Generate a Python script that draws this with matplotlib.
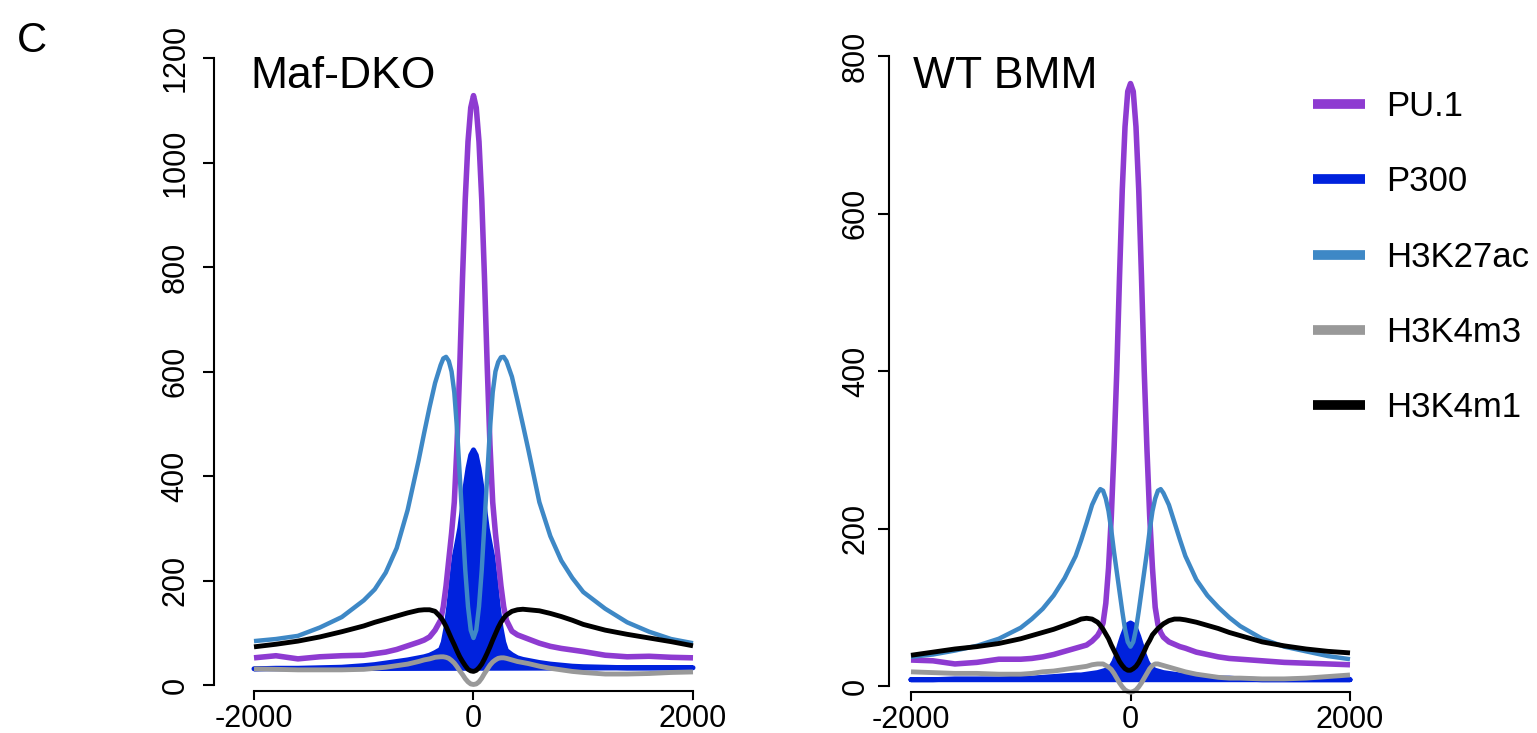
import numpy as np
import matplotlib
matplotlib.use('Agg')
import matplotlib.pyplot as plt
from matplotlib.lines import Line2D

plt.rcParams['font.family'] = ['Liberation Sans', 'DejaVu Sans']
plt.rcParams['axes.unicode_minus'] = False

# distance from peak centre (bp), shared by every profile
pos = [-2000, -1800, -1600, -1400, -1200, -1000, -900, -800, -700, -600, -500, -450, -400, -350,
       -300, -275, -250, -225, -200, -175, -150, -125, -100, -75, -50, -25, 0,
       25, 50, 75, 100, 125, 150, 175, 200, 225, 250, 275, 300,
       350, 400, 450, 500, 600, 700, 800, 900, 1000, 1200, 1400, 1600, 1800, 2000]

marks = ['PU.1', 'P300', 'H3K27ac', 'H3K4m3', 'H3K4m1']
colors = ['#8E3BD1', '#0022DD', '#3E88C6', '#999999', '#000000']

# Maf-DKO
dko_pu1 = [52, 56, 50, 54, 56, 57, 60, 63, 68, 75, 82, 86, 92, 105,
           124, 150, 190, 240, 290, 350, 460, 610, 780, 930, 1040, 1105, 1128,
           1105, 1040, 930, 780, 610, 460, 350, 290, 240, 190, 150, 124,
           103, 96, 92, 88, 80, 74, 70, 67, 64, 57, 54, 55, 53, 52]
dko_p300 = [31, 32, 32, 33, 34, 37, 39, 42, 45, 48, 52, 54, 57, 62,
            68, 82, 110, 150, 200, 245, 272, 300, 340, 380, 415, 440, 450,
            440, 415, 380, 340, 300, 272, 245, 200, 150, 110, 82, 66,
            58, 52, 49, 47, 43, 40, 38, 36, 35, 34, 33, 33, 33, 33]
dko_k27ac = [84, 88, 94, 110, 130, 162, 183, 215, 262, 335, 430, 482, 532, 578,
             612, 625, 628, 620, 600, 560, 490, 400, 310, 220, 150, 105, 90,
             105, 150, 220, 310, 400, 490, 560, 600, 618, 627, 628, 620,
             590, 545, 498, 450, 350, 285, 238, 205, 178, 146, 120, 102, 88, 80]
dko_k4m3 = [31, 30, 29, 29, 29, 30, 32, 34, 37, 40, 45, 48, 50, 53,
            54, 54, 53, 51, 47, 42, 35, 27, 20, 12, 6, 2, 1,
            2, 6, 13, 22, 30, 38, 44, 48, 51, 52, 52, 51,
            48, 45, 43, 41, 36, 32, 29, 26, 24, 21, 21, 22, 24, 25]
dko_k4m1 = [73, 78, 84, 92, 102, 113, 120, 126, 132, 138, 143, 144, 144, 141,
            130, 122, 112, 100, 88, 77, 65, 54, 45, 37, 30, 27, 26,
            28, 33, 40, 50, 61, 73, 86, 98, 110, 120, 128, 134,
            141, 144, 145, 144, 142, 137, 131, 124, 116, 105, 97, 90, 83, 75]

# WT BMM
wt_pu1 = [33, 32, 28, 30, 34, 34, 35, 37, 40, 44, 48, 50, 52, 57,
          64, 70, 80, 105, 150, 215, 300, 400, 520, 630, 710, 755, 765,
          755, 710, 630, 520, 400, 300, 215, 150, 100, 78, 68, 62,
          56, 53, 50, 48, 43, 40, 37, 35, 34, 32, 30, 29, 28, 27]
wt_p300 = [8, 8, 9, 9, 9, 10, 10, 11, 12, 13, 14, 14, 15, 16,
           17, 18, 19, 20, 22, 25, 31, 40, 52, 63, 72, 78, 80,
           78, 72, 63, 52, 40, 31, 25, 22, 20, 19, 18, 17,
           16, 15, 14, 13, 12, 11, 10, 10, 9, 8, 8, 8, 8, 8]
wt_k27ac = [37, 40, 45, 51, 60, 74, 85, 98, 115, 137, 165, 185, 207, 230,
            245, 250, 248, 238, 222, 198, 170, 145, 120, 95, 72, 56, 50,
            56, 72, 95, 120, 145, 170, 198, 222, 238, 248, 250, 245,
            230, 208, 186, 165, 135, 115, 100, 87, 76, 60, 50, 44, 38, 34]
wt_k4m3 = [18, 17, 16, 16, 15, 15, 16, 18, 19, 21, 23, 24, 25, 27,
           28, 28, 28, 26, 24, 21, 16, 10, 4, -1, -5, -7, -8,
           -7, -5, -1, 4, 10, 16, 22, 26, 28, 28, 27, 26,
           24, 22, 20, 18, 15, 13, 11, 10, 10, 9, 9, 10, 12, 14]
wt_k4m1 = [39, 43, 47, 50, 54, 60, 64, 68, 72, 77, 82, 85, 86, 85,
           81, 77, 72, 66, 60, 52, 45, 38, 31, 26, 22, 20, 20,
           22, 25, 30, 37, 44, 52, 58, 65, 69, 73, 76, 79,
           83, 85, 85, 84, 81, 77, 73, 68, 64, 56, 51, 47, 44, 42]

W, H = 1537, 733
fig = plt.figure(figsize=(W / 100, H / 100), dpi=100)


def make_axes(xpix, ypix, ytop, box):
    # box = left, right, top, bottom in pixels; xpix/ypix = pixels of -2000/2000 and 0/ytop
    sx = (xpix[1] - xpix[0]) / 4000.0
    sy = (ypix[0] - ypix[1]) / float(ytop)
    ax = fig.add_axes([box[0] / W, 1 - box[3] / H, (box[1] - box[0]) / W, (box[3] - box[2]) / H])
    ax.set_xlim(-2000 - (xpix[0] - box[0]) / sx, 2000 + (box[1] - xpix[1]) / sx)
    ax.set_ylim(-(box[3] - ypix[0]) / sy, ytop + (ypix[1] - box[2]) / sy)
    return ax


def draw(ax, pu1, p300, k27ac, k4m3, k4m1, ytop, ystep, ypad):
    kw = dict(clip_on=False, solid_joinstyle='round', solid_capstyle='butt')
    ax.fill(pos, p300, color=colors[1], lw=3.6, joinstyle='round', clip_on=False)
    ax.plot(pos, pu1, color=colors[0], lw=4.0, **kw)
    ax.plot(pos, k27ac, color=colors[2], lw=3.2, **kw)
    ax.plot(pos, k4m3, color=colors[3], lw=3.5, **kw)
    ax.plot(pos, k4m1, color=colors[4], lw=3.5, **kw)

    for s in ['top', 'right']:
        ax.spines[s].set_visible(False)
    ax.spines['left'].set_bounds(0, ytop)
    ax.spines['bottom'].set_bounds(-2000, 2000)
    ax.spines['left'].set_linewidth(1.5)
    ax.spines['bottom'].set_linewidth(1.5)
    ax.set_xticks([-2000, 0, 2000])
    ax.set_yticks(np.arange(0, ytop + 1, ystep))
    ax.tick_params(axis='x', length=6.5, width=1.5, labelsize=22, pad=3)
    ax.tick_params(axis='y', length=8, width=1.5, labelsize=22, pad=ypad)
    for lab in ax.get_yticklabels():
        lab.set_rotation(90)
        lab.set_va('center')


ax1 = make_axes((254, 693), (685, 58), 1200, (214, 700, 45, 691))
draw(ax1, dko_pu1, dko_p300, dko_k27ac, dko_k4m3, dko_k4m1, 1200, 200, 9)

ax2 = make_axes((911, 1350), (686, 56), 800, (889, 1360, 45, 692))
draw(ax2, wt_pu1, wt_p300, wt_k27ac, wt_k4m3, wt_k4m1, 800, 200, 5)

fig.text(250 / W, 1 - 88 / H, 'Maf-DKO', fontsize=32, va='baseline', ha='left')
fig.text(913 / W, 1 - 88 / H, 'WT BMM', fontsize=32, va='baseline', ha='left')
fig.text(17 / W, 1 - 52 / H, 'C', fontsize=30, va='baseline', ha='left')

handles = [Line2D([0], [0], color=c, lw=7, solid_capstyle='butt') for c in colors]
fig.legend(handles, marks, loc='upper left', bbox_to_anchor=(1313 / W, 1 - 90 / H),
           frameon=False, fontsize=25, handlelength=1.5, handletextpad=0.6,
           labelspacing=1.22, borderpad=0, borderaxespad=0)

plt.savefig('out.png', dpi=100)
